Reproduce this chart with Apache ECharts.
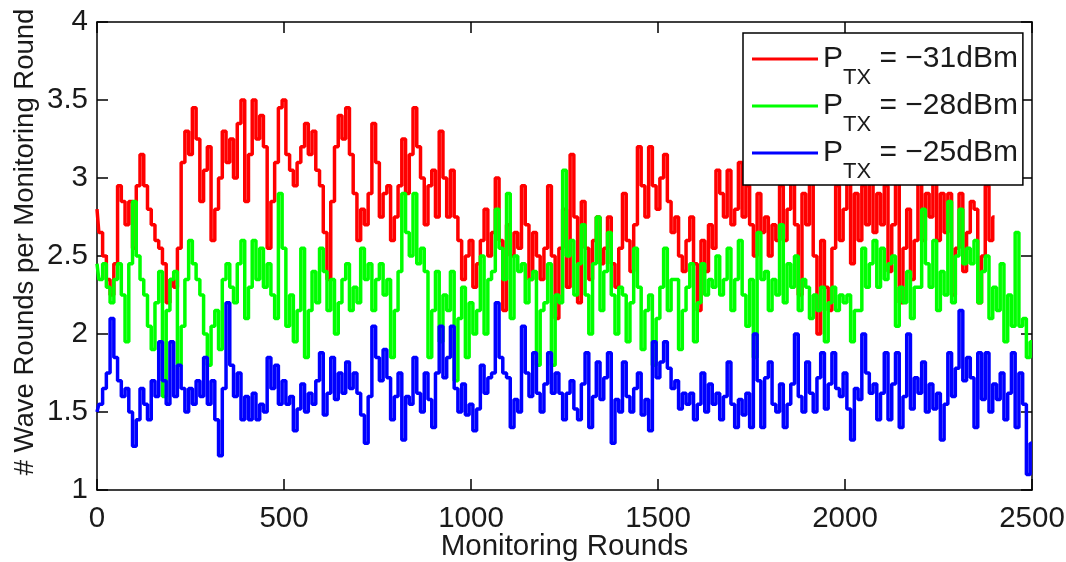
<!DOCTYPE html>
<html>
<head>
<meta charset="utf-8">
<script src="https://cdn.jsdelivr.net/npm/echarts@6/dist/echarts.min.js"></script>
<style>
  html, body { margin: 0; padding: 0; background: #fff; }
  #chart { width: 1066px; height: 562px; }
</style>
</head>
<body>
<div id="chart"></div>
<script>
// Monitoring rounds are sampled every ROUND_STEP rounds.
const ROUND_STEP = 10;
const X_TICKS = [0, 500, 1000, 1500, 2000, 2500];
const Y_TICKS = [1, 1.5, 2, 2.5, 3, 3.5, 4];

// Legend labels (transmit power)
const POWER_LABELS = ['PTX = \u221231dBm', 'PTX = \u221228dBm', 'PTX = \u221225dBm'];
const COLORS = ['#ff0000', '#00ff00', '#0000ff'];

// Wave rounds per monitoring round, P_TX = -31 dBm (rounds 0..2400)
const wavesM31 = [
  2.80, 2.65, 2.50, 2.35, 2.25, 2.45, 2.95, 2.85, 2.70, 2.85,
  2.55, 2.95, 3.15, 2.95, 2.80, 2.70, 2.60, 2.55, 2.45, 2.20,
  2.35, 2.30, 2.55, 3.10, 3.30, 3.15, 3.45, 3.25, 2.85, 3.05,
  3.20, 2.60, 2.80, 3.00, 3.30, 3.10, 3.25, 3.00, 3.35, 3.50,
  2.85, 3.15, 3.50, 3.25, 3.40, 3.20, 2.55, 2.85, 3.10, 3.45,
  3.50, 3.15, 3.05, 2.95, 3.10, 3.20, 3.35, 3.15, 3.30, 3.05,
  2.95, 2.65, 2.35, 2.85, 3.20, 3.40, 3.25, 3.45, 3.15, 2.90,
  2.60, 2.80, 2.70, 2.90, 3.35, 3.10, 2.75, 2.90, 2.95, 2.60,
  2.75, 2.95, 3.25, 2.90, 3.15, 3.45, 3.20, 3.00, 2.70, 2.95,
  3.05, 2.75, 3.30, 3.00, 2.75, 3.05, 2.75, 2.60, 2.35, 2.50,
  2.60, 2.30, 2.45, 2.60, 2.80, 2.50, 2.65, 3.00, 2.60, 2.15,
  2.70, 2.50, 2.65, 2.55, 2.95, 2.70, 2.35, 2.65, 2.50, 2.35,
  2.55, 2.95, 2.50, 2.10, 2.55, 2.80, 2.30, 3.15, 2.75, 2.20,
  2.85, 2.55, 2.35, 2.60, 2.75, 2.45, 2.55, 2.75, 2.45, 2.30,
  2.55, 2.90, 2.60, 2.40, 2.70, 3.20, 2.95, 2.75, 3.20, 2.95,
  2.80, 3.00, 3.15, 2.85, 2.65, 2.75, 2.50, 2.40, 2.60, 2.75,
  2.45, 2.15, 2.60, 2.40, 2.70, 2.55, 3.05, 2.90, 2.75, 3.05,
  2.70, 2.80, 3.10, 2.75, 2.95, 2.70, 2.50, 2.90, 2.65, 2.75,
  2.50, 2.70, 2.60, 2.95, 2.60, 2.80, 3.10, 2.70, 2.25, 2.90,
  2.70, 3.20, 2.50, 2.00, 2.60, 2.30, 2.15, 2.55, 2.95, 2.60,
  2.80, 3.00, 2.45, 2.90, 2.60, 2.95, 2.70, 3.10, 2.65, 2.90,
  2.70, 2.95, 2.40, 2.70, 3.00, 2.20, 2.55, 2.80, 2.35, 2.60,
  3.00, 2.60, 2.90, 2.75, 3.10, 2.60, 2.90, 2.65, 2.90, 2.25,
  2.55, 2.90, 2.40, 2.65, 2.85, 2.80, 2.20, 2.50, 2.95, 2.60,
  2.75
];

// Wave rounds per monitoring round, P_TX = -28 dBm (rounds 0..2500)
const wavesM28 = [
  2.45, 2.35, 2.45, 2.30, 2.20, 2.35, 2.45, 2.25, 1.95, 2.45,
  2.85, 2.50, 2.35, 2.25, 2.05, 1.90, 2.20, 2.40, 1.60, 2.15,
  2.35, 2.40, 1.80, 2.05, 2.35, 2.60, 2.45, 2.35, 2.25, 2.00,
  1.80, 2.05, 2.15, 1.90, 2.35, 2.45, 2.30, 2.20, 2.45, 2.60,
  2.10, 2.30, 2.60, 2.35, 2.55, 2.30, 2.45, 2.25, 2.10, 2.90,
  2.55, 2.05, 2.25, 1.95, 2.15, 2.55, 1.85, 2.15, 2.40, 2.20,
  2.55, 2.40, 2.15, 2.35, 2.00, 2.20, 2.35, 2.45, 2.15, 2.30,
  2.20, 2.55, 2.35, 2.45, 2.15, 2.35, 2.45, 2.25, 2.35, 1.85,
  2.15, 2.40, 2.90, 2.65, 2.50, 2.90, 2.45, 2.55, 2.40, 1.85,
  2.15, 2.40, 1.95, 2.25, 2.15, 2.40, 1.70, 2.10, 2.30, 1.85,
  2.20, 2.00, 2.15, 2.50, 2.00, 2.35, 2.40, 2.80, 2.55, 2.35,
  2.90, 2.10, 2.50, 2.40, 2.45, 2.20, 2.35, 2.40, 1.80, 2.15,
  2.20, 2.45, 1.80, 2.25, 2.20, 3.05, 2.50, 2.60, 2.25, 2.45,
  2.70, 2.25, 2.00, 2.45, 2.75, 2.15, 2.40, 2.65, 2.25, 2.00,
  2.30, 2.25, 1.95, 2.20, 2.55, 2.30, 1.90, 2.15, 2.25, 1.80,
  2.10, 2.30, 2.55, 2.15, 2.35, 2.35, 1.90, 2.15, 2.30, 2.45,
  1.95, 2.20, 2.45, 2.25, 2.35, 2.30, 2.50, 2.25, 2.35, 2.55,
  2.15, 2.35, 2.60, 2.25, 2.05, 2.35, 1.85, 2.65, 2.35, 2.40,
  2.15, 2.35, 2.25, 2.70, 2.20, 2.45, 2.30, 2.50, 2.15, 2.35,
  2.30, 2.10, 2.25, 2.15, 2.30, 1.95, 2.20, 2.30, 2.15, 2.25,
  2.20, 2.25, 1.95, 2.15, 2.15, 2.55, 2.30, 2.45, 2.60, 2.30,
  2.55, 2.35, 2.45, 2.50, 2.05, 2.30, 2.20, 2.40, 2.10, 2.30,
  2.30, 2.80, 2.45, 2.30, 2.60, 2.15, 2.40, 2.25, 2.85, 2.20,
  2.50, 2.80, 2.45, 2.55, 2.45, 2.60, 2.20, 2.40, 2.50, 2.10,
  2.30, 2.15, 2.45, 1.95, 2.25, 2.05, 2.65, 2.05, 2.10, 1.85,
  1.95
];

// Wave rounds per monitoring round, P_TX = -25 dBm (rounds 0..2500)
const wavesM25 = [
  1.50, 1.55, 1.65, 1.75, 2.10, 1.85, 1.70, 1.60, 1.65, 1.50,
  1.28, 1.45, 1.65, 1.55, 1.45, 1.70, 1.60, 1.95, 1.70, 1.55,
  1.95, 1.60, 1.80, 1.65, 1.50, 1.65, 1.55, 1.70, 1.60, 1.85,
  1.55, 1.70, 1.45, 1.22, 1.65, 2.20, 1.80, 1.60, 1.75, 1.45,
  1.60, 1.45, 1.62, 1.45, 1.55, 1.50, 1.85, 1.65, 1.80, 1.55,
  1.70, 1.55, 1.60, 1.38, 1.52, 1.68, 1.50, 1.62, 1.55, 1.70,
  1.88, 1.48, 1.62, 1.85, 1.58, 1.75, 1.62, 1.82, 1.65, 1.75,
  1.62, 1.48, 1.30, 1.60, 2.05, 1.85, 1.70, 1.90, 1.72, 1.45,
  1.60, 1.75, 1.32, 1.60, 1.55, 1.85, 1.62, 1.50, 1.75, 1.58,
  1.40, 1.75, 2.05, 1.72, 1.85, 2.05, 1.65, 1.50, 1.68, 1.48,
  1.55, 1.38, 1.52, 1.80, 1.62, 1.72, 1.75, 2.20, 1.85, 1.75,
  1.72, 1.40, 1.58, 1.50, 2.05, 1.75, 1.60, 1.88, 1.62, 1.50,
  1.68, 1.88, 1.62, 1.75, 1.62, 1.45, 1.62, 1.70, 1.52, 1.45,
  1.68, 1.88, 1.40, 1.60, 1.82, 1.58, 1.72, 1.88, 1.30, 1.58,
  1.50, 1.82, 1.60, 1.50, 1.65, 1.75, 1.48, 1.58, 1.38, 1.95,
  1.72, 1.82, 1.95, 1.78, 1.65, 1.70, 1.52, 1.62, 1.55, 1.62,
  1.45, 1.55, 1.75, 1.50, 1.68, 1.55, 1.62, 1.45, 1.60, 1.82,
  1.55, 1.40, 1.58, 1.48, 1.62, 1.40, 2.00, 1.70, 1.40, 1.72,
  1.82, 1.55, 1.50, 1.68, 1.40, 1.55, 1.68, 2.00, 1.60, 1.50,
  1.82, 1.62, 1.50, 1.72, 1.88, 1.52, 1.68, 1.88, 1.65, 1.60,
  1.75, 1.52, 1.32, 1.65, 1.58, 2.00, 1.75, 1.62, 1.68, 1.45,
  1.62, 1.88, 1.45, 1.68, 1.88, 1.40, 1.60, 2.00, 1.52, 1.72,
  1.62, 1.82, 1.50, 1.68, 1.52, 1.62, 1.32, 1.55, 1.88, 1.60,
  1.78, 2.15, 1.70, 1.85, 1.72, 1.40, 1.88, 1.58, 1.88, 1.50,
  1.68, 1.58, 1.75, 1.45, 1.62, 1.88, 1.40, 1.75, 1.55, 1.10,
  1.30
];

const FONT = "'Liberation Sans', Arial, Helvetica, sans-serif";
const TEXT_COLOR = '#1a1a1a';
const AXIS_COLOR = '#000';

// pair each value with its monitoring round
function toPoints(values) {
  return values.map((v, i) => [i * ROUND_STEP, v]);
}

const seriesValues = [wavesM31, wavesM28, wavesM25];

const chart = echarts.init(document.getElementById('chart'), null, { renderer: 'canvas' });

const axisLineStyle = { color: AXIS_COLOR, width: 1.5 };
const tickStyle = { show: true, inside: true, length: 11, lineStyle: { color: AXIS_COLOR, width: 1.5 } };

const xBase = {
  type: 'value',
  min: X_TICKS[0],
  max: X_TICKS[X_TICKS.length - 1],
  interval: X_TICKS[1] - X_TICKS[0],
  splitLine: { show: false },
  axisLine: { show: true, onZero: false, lineStyle: axisLineStyle },
  axisTick: tickStyle
};
const yBase = {
  type: 'value',
  min: Y_TICKS[0],
  max: Y_TICKS[Y_TICKS.length - 1],
  interval: Y_TICKS[1] - Y_TICKS[0],
  splitLine: { show: false },
  axisLine: { show: true, onZero: false, lineStyle: axisLineStyle },
  axisTick: tickStyle
};

const option = {
  animation: false,
  backgroundColor: '#fff',
  grid: { left: 97, right: 34, top: 22, bottom: 72, containLabel: false, outerBoundsMode: 'none' },
  xAxis: [
    Object.assign({}, xBase, {
      position: 'bottom',
      axisLabel: {
        fontSize: 29.5, color: TEXT_COLOR, fontFamily: FONT, margin: 14,
        formatter: (v) => String(v)
      },
      name: 'Monitoring Rounds',
      nameLocation: 'middle',
      nameGap: 42,
      nameMoveOverlap: false,
      nameTextStyle: { fontSize: 29.5, color: TEXT_COLOR, fontFamily: FONT }
    }),
    Object.assign({}, xBase, { position: 'top', axisLabel: { show: false } })
  ],
  yAxis: [
    Object.assign({}, yBase, {
      position: 'left',
      axisLabel: { fontSize: 29.5, color: TEXT_COLOR, fontFamily: FONT, margin: 9 },
      name: '# Wave Rounds per Monitoring Round',
      nameLocation: 'middle',
      nameRotate: 90,
      nameGap: 58,
      nameMoveOverlap: false,
      nameTextStyle: { fontSize: 27.5, color: TEXT_COLOR, fontFamily: FONT, padding: [0, 0, 0, 28] }
    }),
    Object.assign({}, yBase, { position: 'right', axisLabel: { show: false } })
  ],
  legend: {
    orient: 'vertical',
    left: 743,
    top: 33,
    padding: [11, 5, 2, 9],
    itemGap: 2,
    itemWidth: 66,
    itemHeight: 3,
    icon: 'rect',
    selectedMode: false,
    backgroundColor: '#fff',
    borderColor: '#000',
    borderWidth: 1.5,
    data: POWER_LABELS,
    formatter: (name) => '{p|P}{sub|TX}{t|' + name.slice(3) + '}',
    textStyle: {
      color: TEXT_COLOR,
      fontFamily: FONT,
      rich: {
        p: { fontSize: 30, lineHeight: 60, verticalAlign: 'middle', fontFamily: FONT, color: TEXT_COLOR },
        sub: { fontSize: 22, verticalAlign: 'bottom', fontFamily: FONT, color: TEXT_COLOR },
        t: { fontSize: 30, lineHeight: 60, verticalAlign: 'middle', fontFamily: FONT, color: TEXT_COLOR }
      }
    }
  },
  series: seriesValues.map((vals, i) => ({
    name: POWER_LABELS[i],
    type: 'line',
    xAxisIndex: 0,
    yAxisIndex: 0,
    step: 'middle',
    showSymbol: false,
    symbol: 'none',
    color: COLORS[i],
    lineStyle: { color: COLORS[i], width: 3.5 },
    data: toPoints(vals)
  }))
};

chart.setOption(option);
</script>
</body>
</html>
